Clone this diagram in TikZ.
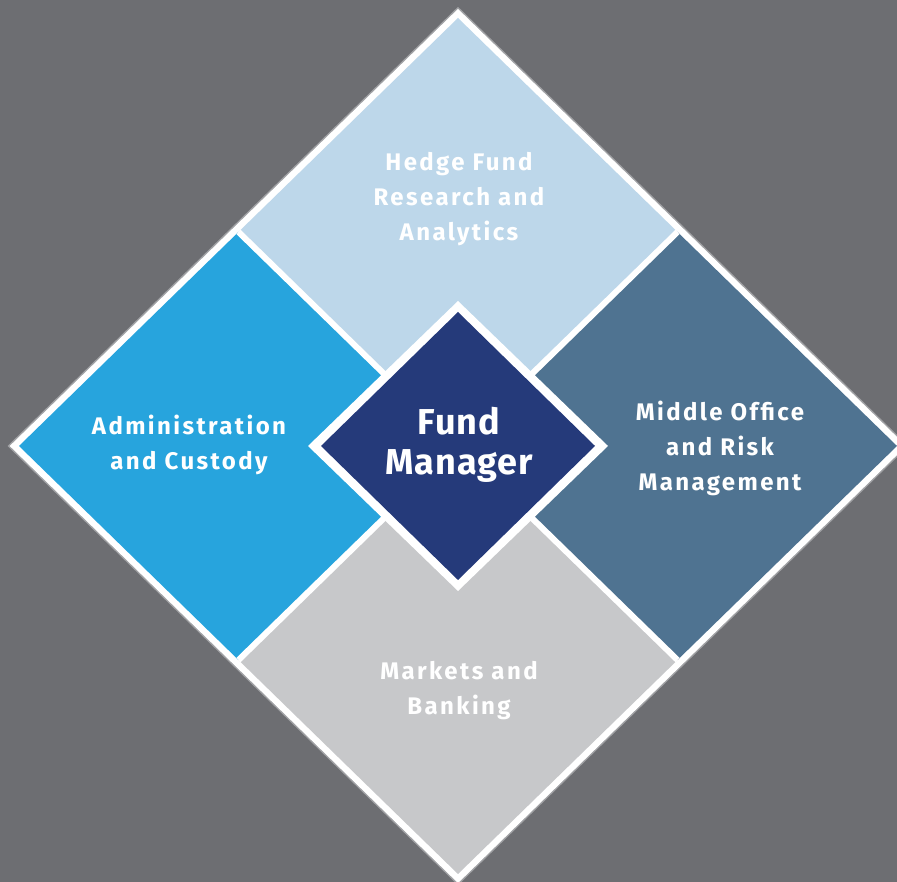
\documentclass[tikz,border=0pt]{standalone}
\usepackage{fontspec}
\setmainfont{Fira Sans}
\newfontfamily\lblfont[LetterSpace=10]{Fira Sans}
\newfontfamily\bigfont[LetterSpace=3]{Fira Sans}
\definecolor{bggray}{RGB}{109,110,114}
\definecolor{rimgray}{RGB}{160,161,164}
\definecolor{qtop}{RGB}{189,215,234}
\definecolor{qleft}{RGB}{39,164,221}
\definecolor{qright}{RGB}{79,115,145}
\definecolor{qbottom}{RGB}{199,200,202}
\definecolor{qcenter}{RGB}{37,58,122}
\tikzset{
  lbl/.style={text=white, font=\lblfont\bfseries\fontsize{24}{35}\selectfont, align=center, inner sep=0pt},
  biglbl/.style={text=white, font=\bigfont\bfseries\fontsize{36}{40}\selectfont, align=center, inner sep=0pt},
}
\begin{document}
\begin{tikzpicture}[x=1pt,y=1pt]
\fill[bggray] (0,0) rectangle (897,882);
\useasboundingbox (0,0) rectangle (897,882);
\coordinate (C) at (458,436);
\coordinate (T) at (458,864);
\coordinate (B) at (458,8);
\coordinate (L) at (19,436);
\coordinate (R) at (897,436);
\coordinate (MTL) at (238.5,650);
\coordinate (MTR) at (677.5,650);
\coordinate (MBL) at (238.5,222);
\coordinate (MBR) at (677.5,222);
% outer rim
\draw[rimgray, line width=16, miter limit=10] (T) -- (R) -- (B) -- (L) -- cycle;
\draw[white, line width=13, miter limit=10] (T) -- (R) -- (B) -- (L) -- cycle;
% quadrants
\fill[qtop] (T) -- (MTR) -- (C) -- (MTL) -- cycle;
\fill[qleft] (MTL) -- (C) -- (MBL) -- (L) -- cycle;
\fill[qright] (MTR) -- (R) -- (MBR) -- (C) -- cycle;
\fill[qbottom] (C) -- (MBR) -- (B) -- (MBL) -- cycle;
% dividers
\draw[white, line width=6] (MTL) -- (MBR);
\draw[white, line width=6] (MTR) -- (MBL);
% centre diamond
\fill[white] (458,581) -- (608,436) -- (458,291) -- (308,436) -- cycle;
\fill[qcenter] (458,570) -- (595,436) -- (458,302) -- (321,436) -- cycle;
% labels
\node[lbl] (top) at (459,683) {Hedge Fund\\Research and\\Analytics};
\node[lbl] (left) at (189,437.5) {Administration\\and Custody};
\node[lbl] (right) at (720,434) {Middle Office\\and Risk\\Management};
\node[lbl] (bottom) at (459,191) {Markets and\\Banking};
\node[biglbl] (centre) at (459,437) {Fund\\Manager};
\end{tikzpicture}
\end{document}
